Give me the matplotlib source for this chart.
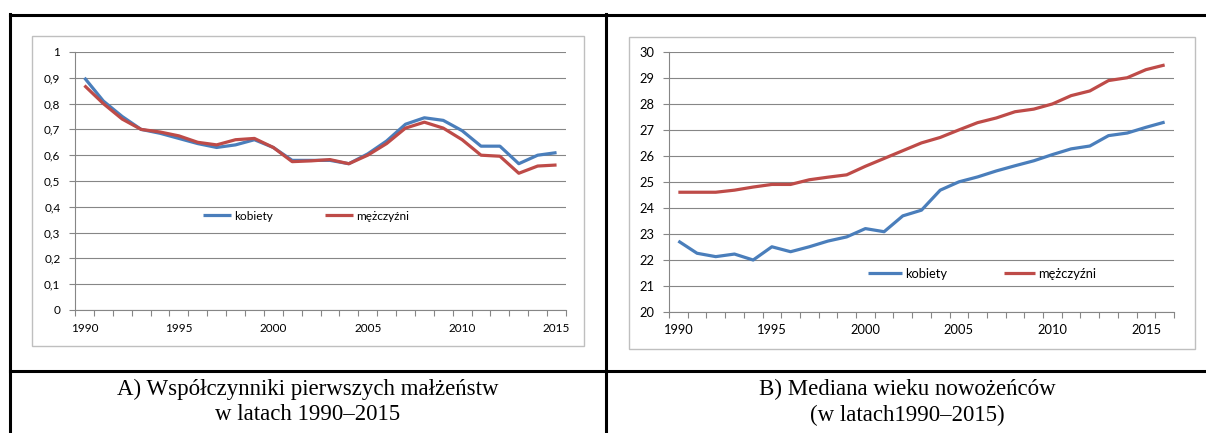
import numpy as np
import matplotlib
matplotlib.use("Agg")
import matplotlib.pyplot as plt
from matplotlib.lines import Line2D

# ---------------- data ----------------
years_a = list(range(1990, 2016))
kobiety_a = [0.90, 0.81, 0.75, 0.70, 0.685, 0.665, 0.645, 0.63, 0.64, 0.66,
             0.63, 0.58, 0.58, 0.58, 0.567, 0.605, 0.655, 0.72, 0.745, 0.735,
             0.695, 0.635, 0.635, 0.567, 0.60, 0.61]
mezczyzni_a = [0.87, 0.80, 0.74, 0.70, 0.69, 0.675, 0.65, 0.64, 0.66, 0.665,
               0.63, 0.575, 0.578, 0.583, 0.567, 0.60, 0.645, 0.705, 0.728, 0.705,
               0.66, 0.60, 0.596, 0.53, 0.558, 0.562]

years_b = list(range(1990, 2017))
kobiety_b = [22.72, 22.25, 22.12, 22.22, 21.99, 22.5, 22.31, 22.5, 22.72, 22.88,
             23.2, 23.08, 23.69, 23.91, 24.68, 25.0, 25.19, 25.42, 25.62, 25.81,
             26.05, 26.27, 26.38, 26.78, 26.88, 27.1, 27.3]
mezczyzni_b = [24.6, 24.6, 24.6, 24.68, 24.8, 24.9, 24.9, 25.08, 25.18, 25.27,
               25.6, 25.9, 26.2, 26.5, 26.71, 27.0, 27.28, 27.46, 27.7, 27.8,
               28.0, 28.32, 28.5, 28.9, 29.01, 29.32, 29.5]

yticks_a = [0, 0.1, 0.2, 0.3, 0.4, 0.5, 0.6, 0.7, 0.8, 0.9, 1]
ytick_labels_a = ["0", "0,1", "0,2", "0,3", "0,4", "0,5", "0,6", "0,7", "0,8", "0,9", "1"]
yticks_b = list(range(20, 31))
series_labels = ["kobiety", "mężczyźni"]
caption_a = ["A) Współczynniki pierwszych małżeństw", "w latach 1990–2015"]
caption_b = ["B) Mediana wieku nowożeńców", "(w latach1990–2015)"]

# ---------------- style ----------------
W, H = 1206, 433
DPI = 100
BLUE = "#4a7ebb"
RED = "#be4b48"
GRID = "#868686"
FRAME = "#bfbfbf"
FONT = ["Lato", "DejaVu Sans"]
SERIF = ["Liberation Serif", "DejaVu Serif"]

plt.rcParams["font.family"] = FONT

fig = plt.figure(figsize=(W / DPI, H / DPI), dpi=DPI)


def fx(px):
    return px / W


def fy(py):
    return 1 - py / H


def rect(x0, y0, x1, y1):
    return [fx(x0), fy(y1), fx(x1) - fx(x0), fy(y0) - fy(y1)]


# table borders
for (xs, ys, lw) in [([10, 10], [14, 433], 2.2), ([606, 606], [14, 433], 2.2),
                     ([10, 1206], [14.5, 14.5], 2.2), ([10, 1206], [371, 371], 2.2)]:
    fig.add_artist(Line2D([fx(x) for x in xs], [fy(y) for y in ys],
                          color="black", lw=lw, transform=fig.transFigure))

# chart area frames
for (x0, y0, x1, y1) in [(31.5, 35.5, 584, 345.5), (629, 36.5, 1195, 348.5)]:
    fig.add_artist(plt.Rectangle((fx(x0), fy(y1)), fx(x1) - fx(x0), fy(y0) - fy(y1),
                                 fill=False, edgecolor=FRAME, lw=1.0,
                                 transform=fig.transFigure))


def setup(ax, years, ser1, ser2, yticks, ylabels, fs, legend_pos):
    n = len(years)
    x = np.arange(n)
    l1, = ax.plot(x, ser1, color=BLUE, lw=2.3, solid_joinstyle="round",
                  solid_capstyle="butt", zorder=3)
    l2, = ax.plot(x, ser2, color=RED, lw=2.3, solid_joinstyle="round",
                  solid_capstyle="butt", zorder=4)
    ax.set_xlim(-0.5, n - 0.5)
    ax.set_ylim(yticks[0], yticks[-1])
    ax.set_yticks(yticks)
    ax.set_yticklabels(ylabels, fontsize=fs)
    ax.yaxis.grid(True, color=GRID, lw=0.8)
    ax.set_axisbelow(True)
    lab_idx = list(range(0, n, 5))
    ax.set_xticks(lab_idx)
    ax.set_xticklabels([str(years[i]) for i in lab_idx], fontsize=fs)
    ax.set_xticks(np.arange(-0.5, n, 1.0), minor=True)
    ax.tick_params(axis="x", which="major", length=0, pad=9)
    ax.tick_params(axis="x", which="minor", length=4, width=0.8, color=GRID, direction="out")
    ax.tick_params(axis="y", length=4.5, width=0.8, color=GRID, pad=6)
    for s in ["top", "right"]:
        ax.spines[s].set_visible(False)
    for s in ["left", "bottom"]:
        ax.spines[s].set_color(GRID)
        ax.spines[s].set_linewidth(0.8)
    # legends
    (bx, by, hl), (rx, ry, hl2) = legend_pos
    for h, lab, (px, py, hlen), add in [(l1, series_labels[0], (bx, by, hl), True),
                                        (l2, series_labels[1], (rx, ry, hl2), False)]:
        leg = ax.legend([h], [lab], loc="center left",
                        bbox_to_anchor=(fx(px), fy(py)), bbox_transform=fig.transFigure,
                        frameon=False, fontsize=fs, borderpad=0, borderaxespad=0,
                        handlelength=hlen, handletextpad=0.25)
        if add:
            ax.add_artist(leg)


ax1 = fig.add_axes(rect(75, 52, 566, 310))
setup(ax1, years_a, kobiety_a, mezczyzni_a, yticks_a, ytick_labels_a, 8.5,
      ((203, 216, 2.4), (325, 216, 2.4)))

ax2 = fig.add_axes(rect(669, 52, 1174, 311.7))
setup(ax2, years_b, kobiety_b, mezczyzni_b, yticks_b, [str(v) for v in yticks_b], 9.3,
      ((868, 274, 2.6), (1004, 274, 2.4)))

# captions
for cap, cx in [(caption_a, 308), (caption_b, 907)]:
    fig.text(fx(cx), fy(389), cap[0], ha="center", va="center", fontsize=16.5, family=SERIF)
    fig.text(fx(cx), fy(415), cap[1], ha="center", va="center", fontsize=16.5, family=SERIF)

fig.savefig("out.png", dpi=DPI)
